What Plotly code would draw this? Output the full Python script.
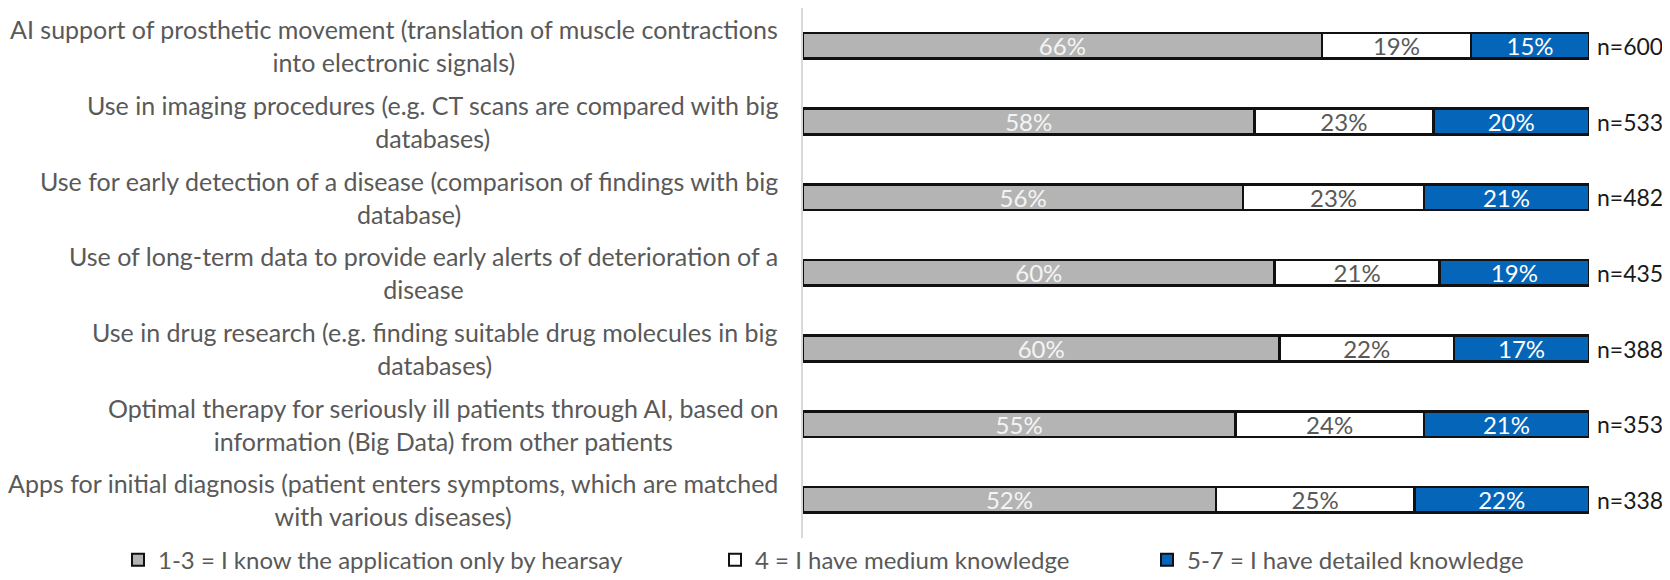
import plotly.graph_objects as go

# categories, top to bottom
applications = [
    'AI support of prosthetic movement (translation of muscle contractions<br>into electronic signals)',
    'Use in imaging procedures (e.g. CT scans are compared with big<br>databases)',
    'Use for early detection of a disease (comparison of findings with big<br>database)',
    'Use of long-term data to provide early alerts of deterioration of a<br>disease',
    'Use in drug research (e.g. finding suitable drug molecules in big<br>databases)',
    'Optimal therapy for seriously ill patients through AI, based on<br>information (Big Data) from other patients',
    'Apps for initial diagnosis (patient enters symptoms, which are matched<br>with various diseases)',
]
hearsay = [66, 58, 56, 60, 60, 55, 52]
medium = [19, 23, 23, 21, 22, 24, 25]
detailed = [15, 20, 21, 19, 17, 21, 22]
n_resp = [600, 533, 482, 435, 388, 353, 338]

legend_names = ['1-3 = I know the application only by hearsay',
                '4 = I have medium knowledge',
                '5-7 = I have detailed knowledge']

FONT = 'Lato'
GREY_TXT = '#595959'

# shares drawn so every bar fills the full width (labels are rounded)
totals = [a + b + c for a, b, c in zip(hearsay, medium, detailed)]


def share(vals):
    return [v * 100.0 / t for v, t in zip(vals, totals)]


series = [
    (hearsay, legend_names[0], '#b4b4b4', '#f4f4f4', 'legend'),
    (medium, legend_names[1], '#ffffff', GREY_TXT, 'legend2'),
    (detailed, legend_names[2], '#0565b8', '#ffffff', 'legend3'),
]

fig = go.Figure()
for vals, name, fill, txtcol, lg in series:
    fig.add_trace(go.Bar(
        y=applications, x=share(vals), orientation='h', name=name,
        width=0.34, legend=lg,
        marker=dict(color=fill, line=dict(color='#111111', width=2.5)),
        text=[f'{v}%' for v in vals], textposition='inside',
        insidetextanchor='middle', constraintext='none',
        textfont=dict(family=FONT, size=24, color=txtcol),
        hoverinfo='skip',
    ))

annotations = []
# category labels: right aligned block, lines centered (like Excel)
for cat in applications:
    annotations.append(dict(
        x=0, y=cat, xref='paper', yref='y', xanchor='right', yanchor='middle',
        xshift=-23, text=cat, align='center', showarrow=False,
        font=dict(family=FONT, size=25, color=GREY_TXT),
    ))
# n= labels at the bar ends
for cat, n in zip(applications, n_resp):
    annotations.append(dict(
        x=100, y=cat, xref='x', yref='y', xanchor='left', yanchor='middle',
        xshift=6, text=f'n={n}', showarrow=False,
        font=dict(family=FONT, size=23, color='#1a1a1a'),
    ))


def legend_box(x):
    return dict(orientation='h', x=x, xanchor='left', xref='container',
                y=0.048, yanchor='middle', yref='container',
                itemsizing='constant', bgcolor='rgba(0,0,0,0)',
                font=dict(family=FONT, size=24, color=GREY_TXT))


fig.update_layout(
    width=1670, height=580,
    barmode='stack',
    plot_bgcolor='white', paper_bgcolor='white',
    margin=dict(l=795, r=89, t=0, b=50),
    font=dict(family=FONT, size=24, color=GREY_TXT),
    xaxis=dict(range=[0, 100], visible=False, fixedrange=True),
    yaxis=dict(range=[6.5, -0.5], showticklabels=False, showgrid=False,
               zeroline=False, showline=True, linecolor='#d9d9d9',
               linewidth=1.5, ticks=''),
    showlegend=True,
    legend=legend_box(110 / 1670),
    legend2=legend_box(707 / 1670),
    legend3=legend_box(1139 / 1670),
    annotations=annotations,
)

fig.write_html('out.html')
